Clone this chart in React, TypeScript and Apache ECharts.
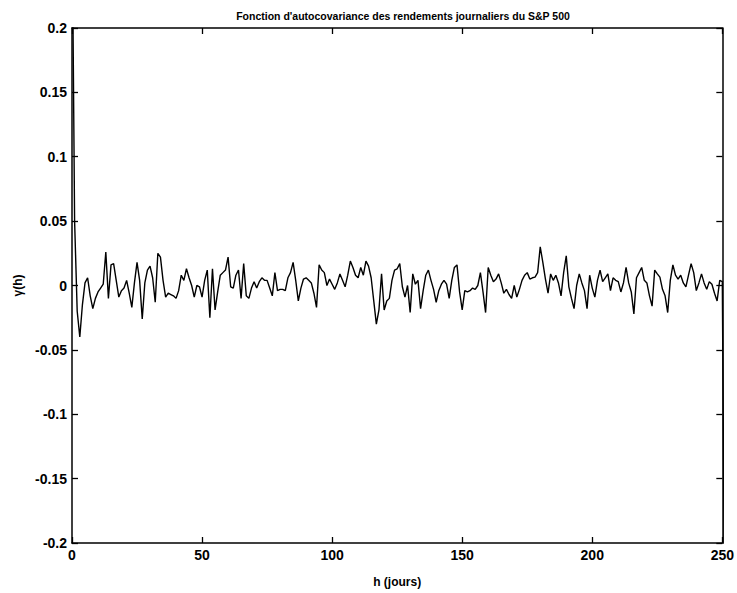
import React, { useEffect, useRef } from "react";
import * as echarts from "echarts";

const title = "Fonction d'autocovariance des rendements journaliers du S&P 500";
const xName = "h (jours)";
const yName = "γ(h)";

// lags h = 0..250
const gammaA = [
  0.3, 0.05, -0.02, -0.04, -0.015, 0.002, 0.006, -0.008, -0.018, -0.01,
  -0.005, -0.002, 0.001, 0.026, -0.01, 0.016, 0.017, 0.004, -0.009, -0.004,
  -0.002, 0.004, -0.006, -0.017, 0.002, 0.018, 0.004, -0.026, 0.002, 0.012,
  0.015, 0.006, -0.013, 0.025, 0.022, 0.004, -0.009, -0.006, -0.007, -0.008,
  -0.01, -0.004, 0.008, 0.004, 0.013, 0.006, 0.0, -0.009, 0.0, -0.001,
  -0.009, 0.004, 0.012, -0.025, 0.013, -0.019, -0.005, 0.008, 0.01, 0.012,
  0.022, -0.001, -0.002, 0.008, 0.012, -0.01, 0.017, -0.008, -0.01, -0.002,
  0.003, -0.002, 0.003, 0.006, 0.004, 0.004, -0.002, -0.008, 0.01, -0.004,
  -0.003, -0.003, -0.004, 0.006, 0.01, 0.018, 0.004, -0.012, -0.002, 0.005,
  0.006, 0.004, 0.002, -0.006, -0.017, 0.016, 0.012, 0.01, 0.0, 0.005,
  0.001, -0.003, 0.002, 0.009, 0.004, -0.001, 0.008, 0.019, 0.014, 0.008,
  0.006, 0.014, 0.008, 0.019, 0.015, 0.006, -0.012, -0.03, -0.019, 0.009,
  -0.019, -0.012, -0.01, 0.004, 0.012,
];
const gammaB = [
  0.013, 0.017, -0.001, -0.009, 0.0, -0.021, 0.009, 0.001, 0.004, -0.018,
  -0.004, 0.008, 0.012, 0.004, -0.003, -0.013, -0.004, 0.001, 0.004, 0.001,
  -0.01, 0.004, 0.014, 0.016, -0.005, -0.019, -0.004, -0.005, -0.004, -0.002,
  -0.003, 0.0, 0.01, -0.005, -0.021, 0.014, 0.008, 0.003, 0.005, 0.009,
  0.002, -0.006, -0.003, -0.007, -0.01, 0.0, -0.009, -0.003, 0.004, 0.008,
  0.01, 0.005, 0.006, 0.0065, 0.01, 0.03, 0.018, 0.005, -0.006, 0.009,
  0.004, 0.008, 0.002, -0.008, 0.01, 0.023, -0.001, -0.01, -0.018, 0.0,
  0.009, 0.002, -0.004, -0.018, 0.008, -0.002, -0.009, 0.004, 0.012, 0.003,
  0.006, 0.009, -0.004, 0.006, 0.004, 0.003, -0.005, 0.002, 0.014, 0.002,
  -0.005, -0.022, 0.006, 0.01, 0.014, 0.004, 0.002, -0.008, -0.016, 0.012,
  0.009, 0.0065, -0.003, -0.008, -0.021, 0.004, 0.016, 0.008, 0.005, 0.008,
  0.002, -0.001, 0.008, 0.017, 0.01, -0.004, 0.002, 0.009, 0.002, -0.003,
  0.003, 0.001, -0.006, -0.012, 0.004, 0.003, -0.3,
];
const gamma = [...gammaA, ...gammaB];

const xTicks = [0, 50, 100, 150, 200, 250];
const yTicks = [-0.2, -0.15, -0.1, -0.05, 0, 0.05, 0.1, 0.15, 0.2];

export default function App() {
  const ref = useRef<HTMLDivElement>(null);
  useEffect(() => {
    if (!ref.current) return;
    const chart = echarts.init(ref.current, undefined, { renderer: "svg" });
    const font = "Liberation Sans, Arial, Helvetica, sans-serif";
    const axisCommon = {
      type: "value" as const,
      axisLine: { show: true, onZero: false, lineStyle: { color: "#000", width: 1.5 } },
      axisTick: { show: true, inside: true, length: 6, lineStyle: { color: "#000", width: 1.3 } },
      splitLine: { show: false },
    };
    const xMin = xTicks[0];
    const xMax = xTicks[xTicks.length - 1];
    const yMin = yTicks[0];
    const yMax = yTicks[yTicks.length - 1];
    chart.setOption({
      animation: false,
      backgroundColor: "#fff",
      title: {
        text: title,
        left: 398,
        top: 5,
        textAlign: "center",
        textStyle: { fontFamily: font, fontSize: 10.5, fontWeight: "bold", color: "#000" },
      },
      grid: { left: 72, right: 13, top: 28, bottom: 50, containLabel: false },
      xAxis: [
        {
          ...axisCommon,
          position: "bottom",
          min: xMin,
          max: xMax,
          interval: 50,
          name: xName,
          nameLocation: "middle",
          nameGap: 33,
          nameTextStyle: { fontFamily: font, fontSize: 12, fontWeight: "bold", color: "#000" },
          axisLabel: { fontFamily: font, fontSize: 14, fontWeight: "bold", color: "#000", margin: 5 },
        },
        {
          ...axisCommon,
          position: "top",
          min: xMin,
          max: xMax,
          interval: 50,
          axisLabel: { show: false },
        },
      ],
      yAxis: [
        {
          ...axisCommon,
          position: "left",
          min: yMin,
          max: yMax,
          interval: 0.05,
          name: yName,
          nameLocation: "middle",
          nameGap: 46,
          nameRotate: 90,
          nameTextStyle: { fontFamily: font, fontSize: 12, fontWeight: "bold", color: "#000" },
          axisLabel: {
            fontFamily: font,
            fontSize: 14,
            fontWeight: "bold",
            color: "#000",
            margin: 5,
            formatter: (v: number) => String(Math.round(v * 100) / 100),
          },
        },
        {
          ...axisCommon,
          position: "right",
          min: yMin,
          max: yMax,
          interval: 0.05,
          axisLabel: { show: false },
        },
      ],
      series: [
        {
          type: "line",
          data: gamma.map((v, h) => [h, v]),
          showSymbol: false,
          symbol: "none",
          clip: true,
          lineStyle: { color: "#000", width: 1.4 },
        },
      ],
    });
    return () => chart.dispose();
  }, []);
  return (
    <div
      ref={ref}
      style={{ position: "fixed", left: 0, top: 0, width: 737, height: 593, background: "#fff" }}
    />
  );
}
